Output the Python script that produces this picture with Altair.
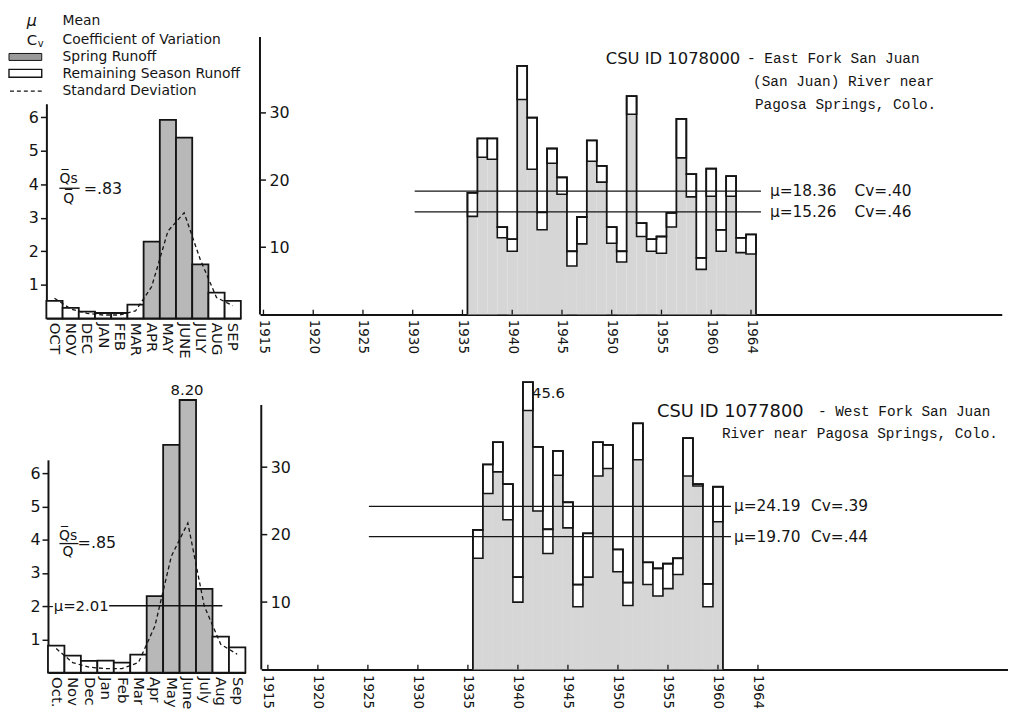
import json
import altair as alt
import pandas as pd

# ------------------------------------------------------------------ data
months_caps = ["OCT", "NOV", "DEC", "JAN", "FEB", "MAR", "APR", "MAY", "JUNE", "JULY", "AUG", "SEP"]
months_title = ["Oct.", "Nov", "Dec", "Jan", "Feb", "Mar", "Apr", "May", "June", "July", "Aug", "Sep"]
spring_index = [6, 7, 8, 9]

east_month_mean = [0.52, 0.31, 0.20, 0.16, 0.16, 0.41, 2.29, 5.92, 5.39, 1.61, 0.77, 0.52]
east_month_sd = [0.60, 0.28, 0.15, 0.10, 0.10, 0.22, 0.95, 2.60, 3.15, 1.75, 0.62, 0.38]
west_month_mean = [0.81, 0.51, 0.35, 0.36, 0.30, 0.54, 2.30, 6.85, 8.20, 2.52, 1.08, 0.76]
west_month_sd = [0.72, 0.30, 0.16, 0.12, 0.12, 0.30, 1.40, 3.50, 4.50, 2.00, 0.85, 0.55]

east_years = list(range(1936, 1965))
east_total = [18.1, 26.2, 26.2, 13.0, 11.2, 37.0, 29.3, 15.2, 24.7, 20.4, 9.4, 14.5, 25.9, 22.1, 13.0,
              9.4, 32.5, 13.6, 11.2, 11.6, 15.1, 29.1, 20.9, 8.4, 21.7, 12.6, 20.6, 11.4, 11.9]
east_spring = [14.6, 23.4, 23.1, 11.4, 9.4, 32.0, 21.6, 12.6, 22.5, 17.9, 7.2, 10.5, 22.8, 19.7, 10.6,
               7.8, 29.8, 11.6, 9.4, 9.1, 13.0, 23.3, 17.5, 6.7, 17.6, 9.4, 17.6, 9.2, 9.0]

west_years = list(range(1936, 1961))
west_total = [20.7, 30.4, 33.7, 27.5, 13.7, 45.6, 33.0, 20.8, 32.4, 24.8, 12.6, 20.2, 33.7, 33.3, 17.8,
              12.9, 36.5, 15.9, 15.0, 15.7, 16.5, 34.3, 27.5, 12.7, 27.1]
west_spring = [16.5, 26.1, 29.3, 22.2, 10.0, 38.4, 23.5, 17.2, 28.8, 21.0, 9.3, 13.7, 28.7, 29.8, 14.5,
               9.5, 31.1, 12.6, 10.9, 12.0, 14.1, 28.7, 27.2, 9.3, 21.9]

east_mean_total, east_cv_total = 18.36, ".40"
east_mean_spring, east_cv_spring = 15.26, ".46"
east_ratio = ".83"
west_mean_total, west_cv_total = 24.19, ".39"
west_mean_spring, west_cv_spring = 19.70, ".44"
west_ratio = ".85"
west_month_overall_mean = 2.01
west_peak_label = "8.20"
west_max_label = "45.6"

year_ticks = [1915, 1920, 1925, 1930, 1935, 1940, 1945, 1950, 1955, 1960, 1964]
month_ticks = [1, 2, 3, 4, 5, 6]
annual_ticks = [10, 20, 30]

# ------------------------------------------------------------------ style
W, H = 1008, 711
FONT = "DejaVu Sans"
MONO = "Liberation Mono"
INK = "#141414"
GREY_M = "#b8b8b8"
GREY_A = "#d6d6d6"
ONE = alt.Data(values=[{"a": 1}])


def lin(dom, rng, clamp=False):
    if clamp:
        return alt.Scale(domain=dom, range=rng, nice=False, zero=False, clamp=True)
    return alt.Scale(domain=dom, range=rng, nice=False, zero=False)


def note(text, x, y, xs, ys, size=15, font=FONT, align="left", baseline="middle", dy=0,
         style="normal"):
    return alt.Chart(ONE).mark_text(text=text, fontSize=size, font=font, align=align,
                                    baseline=baseline, dy=dy, color=INK, fontStyle=style).encode(
        x=alt.X(datum=x, scale=xs, axis=None), y=alt.Y(datum=y, scale=ys, axis=None))


def px_text(text, x, y, size=14, font=FONT, style="normal"):
    return alt.Chart(ONE).mark_text(text=text, fontSize=size, font=font, align="left",
                                    baseline="middle", color=INK, fontStyle=style).encode(
        x=alt.value(x), y=alt.value(y))


def monthly_panel(names, means, sds, xr, base, unit, ytop, label_size):
    xs = lin([0, 12], xr)
    ys = lin([0, ytop], [base, base - unit * ytop])
    bars = pd.DataFrame({"x0": list(range(12)), "x1": [i + 1 for i in range(12)], "v": means,
                         "spring": [i in spring_index for i in range(12)]})
    label_expr = json.dumps(names) + "[floor(datum.value)]"
    xaxis = alt.Axis(orient="bottom", offset=base - H, values=[i + 0.5 for i in range(12)],
                     labelExpr=label_expr, labelAngle=90, ticks=False, domainColor=INK, domainWidth=2,
                     labelPadding=4, grid=False, title=None, labelFontSize=label_size)
    yaxis = alt.Axis(orient="left", offset=-xr[0], values=month_ticks, tickSize=6, tickColor=INK,
                     tickWidth=1.5, domainColor=INK, domainWidth=2, labelPadding=2, grid=False,
                     title=None, labelFontSize=16, format="d")
    layer_bars = alt.Chart(bars).mark_rect(stroke=INK, strokeWidth=1.8).encode(
        x=alt.X("x0:Q", scale=xs, axis=xaxis), x2="x1:Q",
        y=alt.Y("v:Q", scale=ys, axis=yaxis), y2=alt.Y2(datum=0),
        fill=alt.condition("datum.spring", alt.value(GREY_M), alt.value("white")))
    sd_df = pd.DataFrame({"x": [i + 0.5 for i in range(12)], "sd": sds})
    layer_sd = alt.Chart(sd_df).mark_line(color=INK, strokeWidth=1.3, strokeDash=[4, 3]).encode(
        x=alt.X("x:Q", scale=xs, axis=None), y=alt.Y("sd:Q", scale=ys, axis=None))
    return [layer_bars, layer_sd], xs, ys


def annual_panel(years, total, spring, xdom, xr, base, unit, ytop, axis_top, clamp):
    xs = lin(xdom, xr)
    ys = lin([0, ytop], [base, base - unit * ytop], clamp)
    df = pd.DataFrame({"x0": [y - 0.5 for y in years], "x1": [y + 0.5 for y in years],
                       "tot": total, "spr": spring})
    xaxis = alt.Axis(orient="bottom", offset=base - H, values=year_ticks, labelAngle=90, ticks=False,
                     domainColor=INK, domainWidth=2, labelPadding=5, format="d", labelFontSize=13.5,
                     grid=False, title=None)
    yaxis = alt.Axis(orient="left", offset=-xr[0], values=annual_ticks, ticks=False, tickSize=0,
                     domain=False, labelAlign="left", labelPadding=-9, labelFontSize=16, grid=False,
                     title=None, format="d")
    layer_spring = alt.Chart(df).mark_rect(fill=GREY_A).encode(
        x=alt.X("x0:Q", scale=xs, axis=xaxis), x2="x1:Q",
        y=alt.Y("spr:Q", scale=ys, axis=yaxis), y2=alt.Y2(datum=0))
    layer_rest = alt.Chart(df).mark_rect(fill="white", stroke=INK, strokeWidth=1.6).encode(
        x=alt.X("x0:Q", scale=xs, axis=None), x2="x1:Q",
        y=alt.Y("spr:Q", scale=ys, axis=None), y2="tot:Q")
    rows = [{"i": 0, "x": years[0] - 0.5, "y": 0}]
    for k, (yr, t) in enumerate(zip(years, total)):
        rows.append({"i": k + 1, "x": yr - 0.5, "y": t})
    rows.append({"i": len(years) + 1, "x": years[-1] + 0.5, "y": total[-1]})
    rows.append({"i": len(years) + 2, "x": years[-1] + 0.5, "y": 0})
    layer_outline = alt.Chart(pd.DataFrame(rows)).mark_line(
        interpolate="step-after", color=INK, strokeWidth=1.8).encode(
        x=alt.X("x:Q", scale=xs, axis=None), y=alt.Y("y:Q", scale=ys, axis=None), order="i:Q")
    ax = pd.DataFrame({"x": [xdom[0]], "y0": [0], "y1": [axis_top]})
    layer_axis = alt.Chart(ax).mark_rule(color=INK, strokeWidth=2).encode(
        x=alt.X("x:Q", scale=xs, axis=None), y=alt.Y("y0:Q", scale=ys, axis=None), y2="y1:Q")
    tk = pd.DataFrame({"x0": [xdom[0]] * 3, "x1": [xdom[0] + 0.6] * 3, "y": annual_ticks})
    layer_ticks = alt.Chart(tk).mark_rule(color=INK, strokeWidth=1.5).encode(
        x=alt.X("x0:Q", scale=xs, axis=None), x2="x1:Q", y=alt.Y("y:Q", scale=ys, axis=None))
    yt = pd.DataFrame({"x": year_ticks, "y0": [0] * len(year_ticks), "y1": [0.7] * len(year_ticks)})
    layer_yticks = alt.Chart(yt).mark_rule(color=INK, strokeWidth=1.3).encode(
        x=alt.X("x:Q", scale=xs, axis=None), y=alt.Y("y0:Q", scale=ys, axis=None), y2="y1:Q")
    return [layer_spring, layer_rest, layer_outline, layer_axis, layer_ticks, layer_yticks], xs, ys


def mean_lines(xs, ys, x_start, x_end, label_x, cv_x, stats):
    m = pd.DataFrame({"x0": [x_start] * 2, "x1": [x_end] * 2, "y": [s[0] for s in stats]})
    layers = [alt.Chart(m).mark_rule(color=INK, strokeWidth=1.4).encode(
        x=alt.X("x0:Q", scale=xs, axis=None), x2="x1:Q", y=alt.Y("y:Q", scale=ys, axis=None))]
    for mu, cv in stats:
        layers.append(note(f"\u03bc={mu:.2f}", label_x, mu, xs, ys, size=15.5))
        layers.append(note(f"Cv={cv}", cv_x, mu, xs, ys, size=15.5))
    return layers


def fraction(xs, ys, xc, y_num, y_bar, y_den, bx0, bx1, eq_x, eq_y, ratio):
    bar = alt.Chart(ONE).mark_rule(color=INK, strokeWidth=1.3).encode(
        x=alt.X(datum=bx0, scale=xs, axis=None), x2=alt.X2(datum=bx1),
        y=alt.Y(datum=y_bar, scale=ys, axis=None))
    return [note("Q\u0305s", xc, y_num, xs, ys, size=14, align="center"),
            bar,
            note("Q\u0305", xc, y_den, xs, ys, size=14, align="center"),
            note(f"={ratio}", eq_x, eq_y, xs, ys, size=16)]


layers = []

# ---------------- top-left: East Fork monthly
tm, txs, tys = monthly_panel(months_caps, east_month_mean, east_month_sd,
                             [38.7, 234.7], 310, 33.8, 6.4, 15)
layers += tm
layers += fraction(txs, tys, 1.37, 4.16, 3.88, 3.56, 0.8, 2.05, 2.3, 3.86, east_ratio)

# ---------------- top-right: East Fork annual
ta, axs, ays = annual_panel(east_years, east_total, east_spring, [1914.65, 1989.2], [254.0, 1001.7],
                            306, 6.77, 41.3, 41.3, False)
layers += ta
layers += mean_lines(axs, ays, 1930.2, 1965.0, 1965.9, 1974.4,
                     [(east_mean_total, east_cv_total), (east_mean_spring, east_cv_spring)])
layers += [
    note("CSU ID 1078000", 1949.4, 38.0, axs, ays, size=16.5),
    note("- East Fork San Juan", 1963.6, 38.0, axs, ays, size=14.5, font=MONO),
    note("(San Juan) River near", 1964.2, 34.6, axs, ays, size=14.5, font=MONO),
    note("Pagosa Springs, Colo.", 1964.4, 31.2, axs, ays, size=14.5, font=MONO),
]

# ---------------- bottom-left: West Fork monthly
bm, bxs, bys = monthly_panel(months_title, west_month_mean, west_month_sd,
                             [40.3, 239.3], 667, 33.5, 6.4, 15)
layers += bm
layers += fraction(bxs, bys, 1.22, 4.12, 3.88, 3.62, 0.7, 1.85, 1.8, 3.9, west_ratio)
mu_line = alt.Chart(ONE).mark_rule(color=INK, strokeWidth=1.4).encode(
    x=alt.X(datum=3.72, scale=bxs, axis=None), x2=alt.X2(datum=10.6),
    y=alt.Y(datum=west_month_overall_mean, scale=bys, axis=None))
layers += [mu_line,
           note(f"-\u03bc={west_month_overall_mean:.2f}", 0.02, west_month_overall_mean, bxs, bys, size=15),
           note(west_peak_label, 8.45, 8.20, bxs, bys, size=15, align="center", baseline="bottom", dy=-2)]

# ---------------- bottom-right: West Fork annual
ba, cxs, cys = annual_panel(west_years, west_total, west_spring, [1914.34, 1989.0], [255.3, 1008.0],
                            664, 6.8, 42.6, 39.2, True)
layers += ba
layers += mean_lines(cxs, cys, 1925.1, 1961.3, 1961.6, 1969.3,
                     [(west_mean_total, west_cv_total), (west_mean_spring, west_cv_spring)])
layers += [
    note(west_max_label, 1941.4, 41.0, cxs, cys, size=15),
    note("CSU ID 1077800", 1953.9, 38.1, cxs, cys, size=18),
    note("- West Fork San Juan", 1970.0, 38.1, cxs, cys, size=14.5, font=MONO),
    note("River near Pagosa Springs, Colo.", 1960.4, 34.9, cxs, cys, size=14.5, font=MONO),
]

# ---------------- legend (top-left corner)
layers += [
    px_text("\u03bc", 19, 10, size=16, style="italic"),
    px_text("Mean", 55, 10),
    px_text("C", 19, 29, size=15),
    px_text("v", 30, 33, size=10),
    px_text("Coefficient of  Variation", 55, 29),
    alt.Chart(ONE).mark_rect(fill="#9a9a9a", stroke=INK, strokeWidth=1).encode(
        x=alt.value(1), x2=alt.value(34), y=alt.value(43), y2=alt.value(50)),
    px_text("Spring Runoff", 55, 47),
    alt.Chart(ONE).mark_rect(fill="white", stroke=INK, strokeWidth=1.4).encode(
        x=alt.value(1), x2=alt.value(34), y=alt.value(59), y2=alt.value(67)),
    px_text("Remaining Season Runoff", 55, 64),
    alt.Chart(ONE).mark_rule(color=INK, strokeWidth=1.3, strokeDash=[4, 3]).encode(
        x=alt.value(2), x2=alt.value(37), y=alt.value(81)),
    px_text("Standard Deviation", 55, 81),
]

chart = alt.layer(*layers).resolve_scale(x="independent", y="independent").properties(
    width=W, height=H, padding=0, autosize=alt.AutoSizeParams(type="none"),
    background="white"
).configure_view(stroke=None).configure_axis(
    labelFont=FONT, labelColor=INK, labelOverlap=False, labelBound=False, labelFlush=False
).configure_text(font=FONT)

chart.save("out.html", embed_options={"renderer": "svg", "actions": False})
